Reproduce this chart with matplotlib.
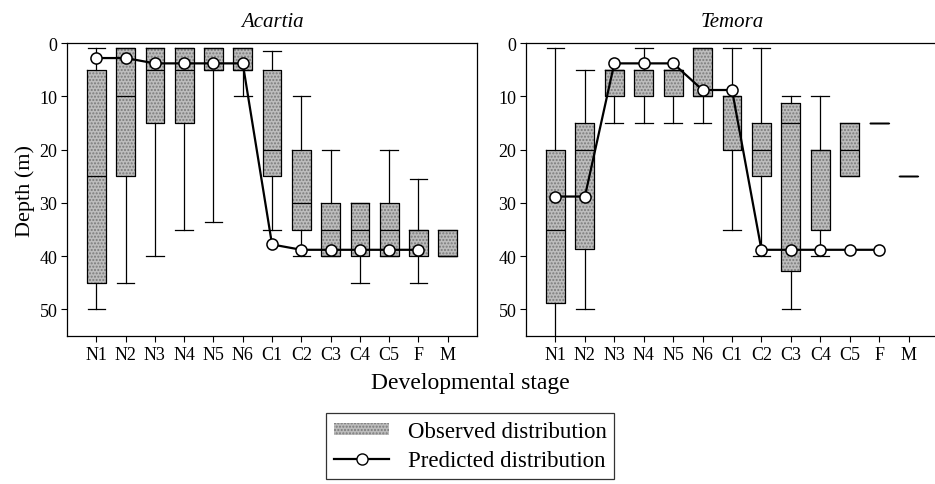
import matplotlib
matplotlib.use('Agg')

import matplotlib.pyplot as plt
from matplotlib.patches import Patch
from matplotlib.lines import Line2D

plt.rcParams['font.family'] = ['Liberation Serif', 'DejaVu Serif']

stages = ['N1', 'N2', 'N3', 'N4', 'N5', 'N6', 'C1', 'C2', 'C3', 'C4', 'C5', 'F', 'M']

# Acartia observed: upper whisker, box top, median, box bottom, lower whisker
ac_whislo = [1, 1, 1, 1, 1, 1, 1.5, 10, 20, 30, 20, 25.5, 35]
ac_q1 = [5, 1, 1, 1, 1, 1, 5, 20, 30, 30, 30, 35, 35]
ac_med = [25, 10, 5, 5, 5, 5, 20, 30, 35, 35, 35, 35, 40]
ac_q3 = [45, 25, 15, 15, 5, 5, 25, 35, 40, 40, 40, 40, 40]
ac_whishi = [50, 45, 40, 35, 33.5, 10, 35, 40, 40, 45, 40, 45, 40]
ac_pred = [2.8, 2.8, 3.8, 3.8, 3.8, 3.8, 37.8, 38.8, 38.8, 38.8, 38.8, 38.8]

# Temora observed
te_whislo = [1, 5, 5, 1, 5, 1, 1, 1, 10, 10, 15, 15, 25]
te_q1 = [20, 15, 5, 5, 5, 1, 10, 15, 11.3, 20, 15, 15, 25]
te_med = [35, 20, 5, 5, 5, 10, 10, 20, 15, 20, 20, 15, 25]
te_q3 = [48.7, 38.7, 10, 10, 10, 10, 20, 25, 42.7, 35, 25, 15, 25]
te_whishi = [60, 50, 15, 15, 15, 15, 35, 40, 50, 40, 25, 15, 25]
te_pred = [28.8, 28.8, 3.8, 3.8, 3.8, 8.8, 8.8, 38.8, 38.8, 38.8, 38.8, 38.8]

box_fill = '#bdbdbd'
hatch_col = '#7a7a7a'


def make_stats(lo, q1, med, q3, hi):
    return [dict(whislo=a, q1=b, med=c, q3=d, whishi=e, fliers=[])
            for a, b, c, d, e in zip(lo, q1, med, q3, hi)]


def draw_panel(ax, stats, pred, title):
    pos = list(range(len(stages)))
    # shaded boxes first
    ax.bxp(stats, positions=pos, widths=0.64, patch_artist=True,
           showcaps=False, showfliers=False,
           boxprops=dict(facecolor=box_fill, edgecolor=hatch_col,
                         hatch='.....', linewidth=0),
           whiskerprops=dict(linewidth=0),
           medianprops=dict(linewidth=0))
    # black outlines, whiskers, caps, medians
    ax.bxp(stats, positions=pos, widths=0.64, showfliers=False,
           boxprops=dict(color='black', linewidth=0.9),
           whiskerprops=dict(color='black', linewidth=0.9),
           capprops=dict(color='black', linewidth=0.9),
           medianprops=dict(color='black', linewidth=0.9),
           capwidths=0.6)
    ax.plot(pos[:len(pred)], pred, color='black', linewidth=1.6,
            marker='o', markersize=8, markerfacecolor='white',
            markeredgecolor='black', markeredgewidth=1.1, zorder=5)
    ax.set_xlim(-1, 13)
    ax.set_ylim(55, 0)
    ax.set_yticks([0, 10, 20, 30, 40, 50])
    ax.set_xticks(pos)
    ax.set_xticklabels(stages)
    ax.tick_params(axis='both', direction='out', length=4, width=0.8,
                   labelsize=13, pad=3)
    for s in ax.spines.values():
        s.set_linewidth(0.9)
    ax.set_title(title, fontsize=15, style='italic', pad=12)


fig = plt.figure(figsize=(9.35, 4.85), dpi=100)
ax1 = fig.add_axes([0.0717, 0.305, 0.4385, 0.604])
ax2 = fig.add_axes([0.5626, 0.305, 0.4406, 0.604])

draw_panel(ax1, make_stats(ac_whislo, ac_q1, ac_med, ac_q3, ac_whishi), ac_pred, 'Acartia')
draw_panel(ax2, make_stats(te_whislo, te_q1, te_med, te_q3, te_whishi), te_pred, 'Temora')

ax1.set_ylabel('Depth (m)', fontsize=16, labelpad=3)
fig.text(0.503, 0.21, 'Developmental stage', ha='center', va='center', fontsize=17)

handles = [Patch(facecolor=box_fill, edgecolor=hatch_col, hatch='.....', linewidth=0),
           Line2D([], [], color='black', linewidth=1.6, marker='o', markersize=8,
                  markerfacecolor='white', markeredgecolor='black')]
leg = fig.legend(handles, ['Observed distribution', 'Predicted distribution'],
                 loc='center', bbox_to_anchor=(0.503, 0.078), fontsize=16.5,
                 frameon=True, fancybox=False, edgecolor='black',
                 handlelength=2.4, handleheight=0.4, borderpad=0.35,
                 labelspacing=0.35)
leg.get_frame().set_linewidth(0.9)

fig.savefig('out.png', dpi=100)
